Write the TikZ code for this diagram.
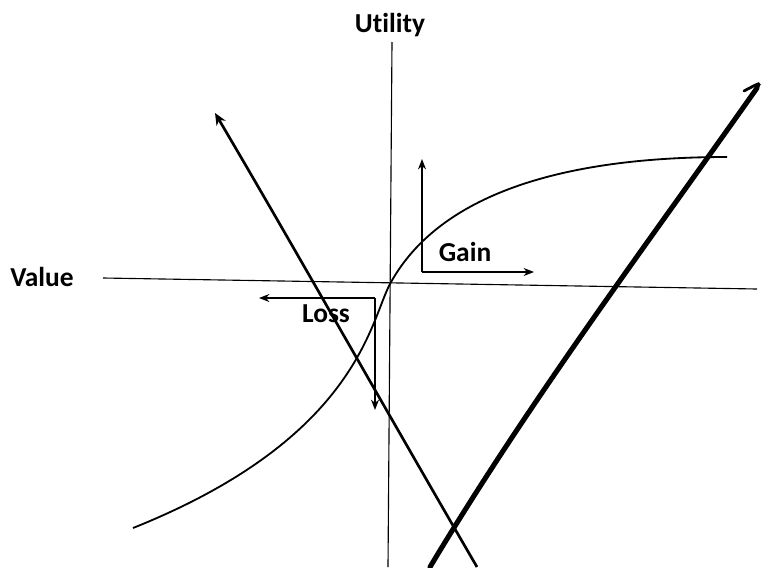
\documentclass[tikz,border=0pt]{standalone}
\usepackage{fontspec}
\setmainfont[Ligatures={NoCommon}]{Carlito}
\usetikzlibrary{arrows.meta}

\begin{document}
\begin{tikzpicture}[x=0.025cm,y=-0.025cm,
  lbl/.style={font=\fontsize{19.5}{21}\selectfont\bfseries,inner sep=0pt},
  axis/.style={line width=0.8pt},
  ar/.style={line width=0.9pt,-{Stealth[length=2.6mm,width=2mm]}},
  curve/.style={line width=1.3pt},
  cross/.style={line width=1.9pt},
  heavy/.style={line width=3.6pt}]
\useasboundingbox (0,0) rectangle (764,567);
% axes
\coordinate (top) at (392,42);
\coordinate (bot) at (388,567);
\coordinate (left) at (103,278);
\coordinate (right) at (757,289);
\draw[axis] (top) -- (bot);
\draw[axis] (left) -- (right);
\node[lbl] (util) at (390,25) {Utility};
\node[lbl] (val) at (42,277) {Value};
% value function
\coordinate (o) at (390,284);
\draw[curve] (133,528) .. controls (358,438) and (370,321) .. (o)
  .. controls (423,223) and (507,157) .. (727,157);
% gain and loss arrows
\coordinate (g0) at (422,272);
\coordinate (gu) at (422,159);
\coordinate (gr) at (534,272);
\draw[ar] (g0) -- (gu);
\draw[ar] (g0) -- (gr);
\node[lbl] (gain) at (465,252) {Gain};
\coordinate (l0) at (375,298);
\coordinate (ll) at (259,298);
\coordinate (ld) at (375,410);
\draw[ar] (l0) -- (ll);
\draw[ar] (l0) -- (ld);
\node[lbl] (loss) at (326,314) {Loss};
% the two crossing lines
\draw[cross,-{Stealth[length=3mm,width=2.6mm]}] (477,567) .. controls (380,400) and (290,240) .. (215,113);
\draw[heavy,line cap=round] (430,567) .. controls (530,400) and (650,240) .. (757,88);
\draw[line width=2pt,line cap=round] (757,88) .. controls (761,82) .. (744,91);
\end{tikzpicture}
\end{document}
